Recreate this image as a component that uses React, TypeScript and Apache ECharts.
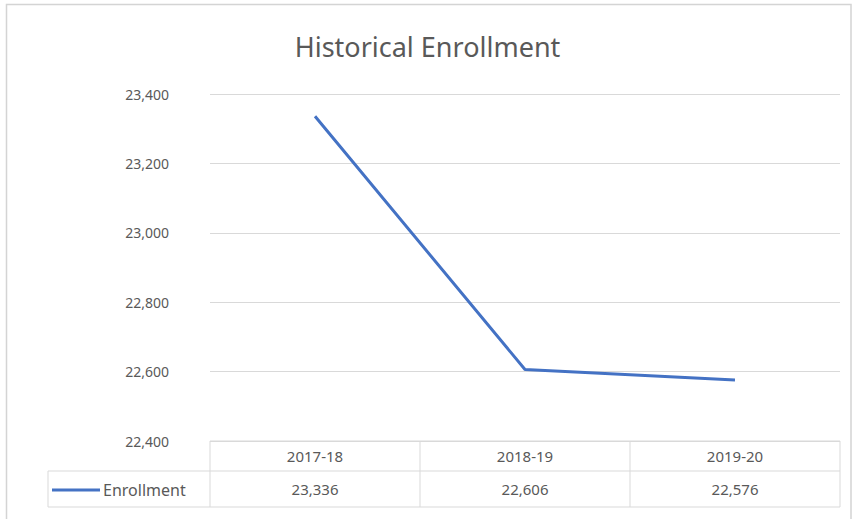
import React, { useEffect, useRef } from "react";
import * as echarts from "echarts";

// Enrollment by school year
const years: string[] = ["2017-18", "2018-19", "2019-20"];
const enrollment: number[] = [23336, 22606, 22576];
const seriesName = "Enrollment";
const chartTitle = "Historical Enrollment";

// Value axis range
const yMin = 22400;
const yMax = 23400;
const yStep = 200;

const W = 855;
const H = 519;

// Layout of the plot area and the data table beneath it
const PLOT_L = 210;
const PLOT_R = 840;
const PLOT_T = 94;
const PLOT_B = 441;
const HEAD_B = 471;
const TABLE_B = 507;
const LEGEND_L = 48;

const BLUE = "#4472C4";
const TEXT = "#595959";
const GRID = "#d9d9d9";
const FONT = "'Noto Sans', 'Open Sans', sans-serif";

const fmt = (v: number) => v.toLocaleString("en-US");

export default function App() {
  const ref = useRef<HTMLDivElement>(null);

  useEffect(() => {
    if (!ref.current) return;
    const chart = echarts.init(ref.current, undefined, { renderer: "svg" });

    const colW = (PLOT_R - PLOT_L) / years.length;
    const graphics: any[] = [];

    // outer chart frame
    graphics.push({
      type: "rect",
      shape: { x: 6.5, y: 4.5, width: W - 4 - 6.5, height: H + 10 },
      style: { fill: "none", stroke: "#d4d4d4", lineWidth: 1.5 },
      silent: true,
    });

    // data table outline
    graphics.push({
      type: "polyline",
      shape: {
        points: [
          [PLOT_L, PLOT_B],
          [PLOT_R, PLOT_B],
          [PLOT_R, TABLE_B],
          [LEGEND_L, TABLE_B],
          [LEGEND_L, HEAD_B],
          [PLOT_R, HEAD_B],
        ],
      },
      style: { fill: "none", stroke: GRID, lineWidth: 1 },
      silent: true,
    });
    for (let i = 0; i < years.length; i++) {
      const x = PLOT_L + i * colW;
      graphics.push({
        type: "line",
        shape: { x1: x, y1: PLOT_B, x2: x, y2: TABLE_B },
        style: { stroke: GRID, lineWidth: 1 },
        silent: true,
      });
    }

    // table text: categories and values
    years.forEach((yr, i) => {
      const cx = PLOT_L + (i + 0.5) * colW;
      graphics.push({
        type: "text",
        x: cx,
        y: (PLOT_B + HEAD_B) / 2,
        style: {
          text: yr,
          fill: TEXT,
          font: `15px ${FONT}`,
          align: "center",
          verticalAlign: "middle",
        },
      });
      graphics.push({
        type: "text",
        x: cx,
        y: (HEAD_B + TABLE_B) / 2,
        style: {
          text: fmt(enrollment[i]),
          fill: TEXT,
          font: `15px ${FONT}`,
          align: "center",
          verticalAlign: "middle",
        },
      });
    });

    // legend key inside the table
    const ly = (HEAD_B + TABLE_B) / 2 + 1;
    graphics.push({
      type: "line",
      shape: { x1: LEGEND_L + 4, y1: ly, x2: LEGEND_L + 52, y2: ly },
      style: { stroke: BLUE, lineWidth: 3 },
      silent: true,
    });
    graphics.push({
      type: "text",
      x: LEGEND_L + 55,
      y: ly,
      style: {
        text: seriesName,
        fill: TEXT,
        font: `16px ${FONT}`,
        align: "left",
        verticalAlign: "middle",
      },
    });

    chart.setOption({
      animation: false,
      backgroundColor: "#ffffff",
      title: {
        text: chartTitle,
        left: "center",
        top: 28,
        textStyle: {
          color: TEXT,
          fontFamily: FONT,
          fontSize: 27,
          fontWeight: "normal",
        },
      },
      grid: {
        left: PLOT_L,
        right: W - PLOT_R,
        top: PLOT_T,
        bottom: H - PLOT_B,
        containLabel: false,
      },
      xAxis: {
        type: "category",
        data: years,
        boundaryGap: true,
        axisLine: { show: false },
        axisTick: { show: false },
        axisLabel: { show: false },
      },
      yAxis: {
        type: "value",
        min: yMin,
        max: yMax,
        interval: yStep,
        axisLine: { show: false },
        axisTick: { show: false },
        axisLabel: {
          color: TEXT,
          fontFamily: FONT,
          fontSize: 14,
          margin: 41,
          formatter: (v: number) => fmt(v),
        },
        splitLine: { lineStyle: { color: GRID, width: 1 } },
      },
      series: [
        {
          name: seriesName,
          type: "line",
          data: enrollment,
          symbol: "none",
          lineStyle: { color: BLUE, width: 3 },
          itemStyle: { color: BLUE },
        },
      ],
      graphic: graphics,
    });

    return () => chart.dispose();
  }, []);

  return (
    <div
      ref={ref}
      style={{ position: "fixed", left: 0, top: 0, width: W, height: H, background: "#fff" }}
    />
  );
}
